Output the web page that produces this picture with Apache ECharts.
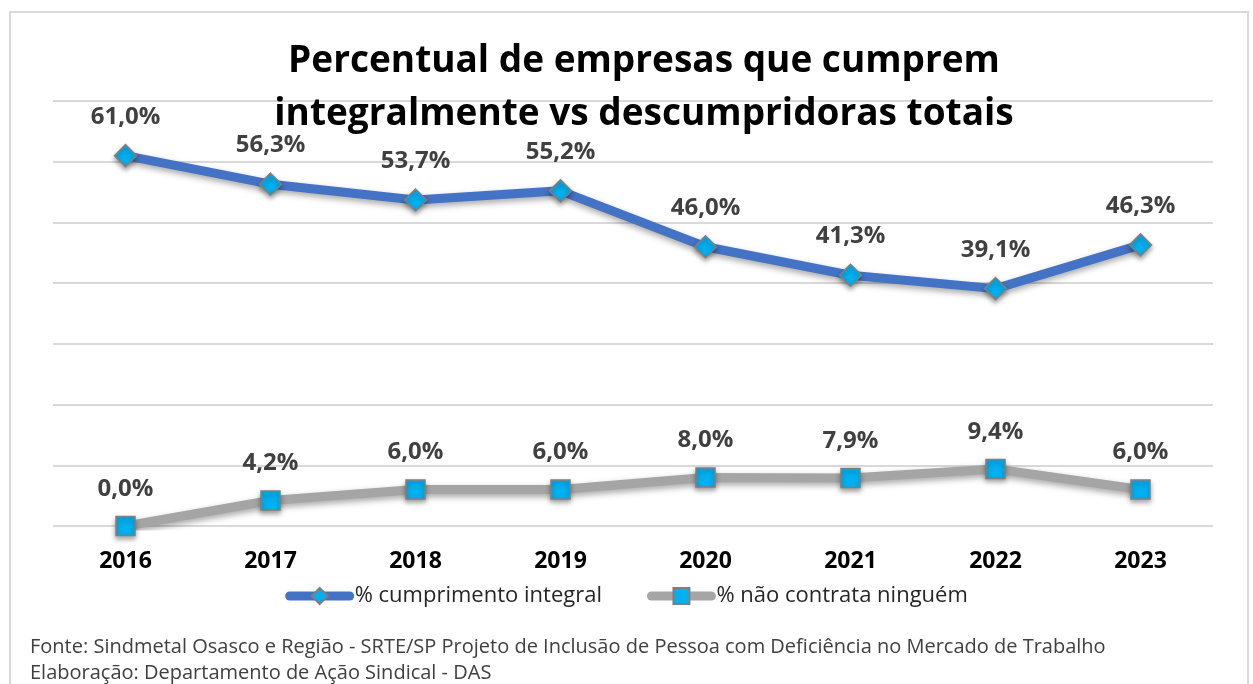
<!DOCTYPE html>
<html>
<head>
<meta charset="utf-8">
<script src="https://cdn.jsdelivr.net/npm/echarts@6/dist/echarts.min.js"></script>
<style>
  html, body { margin: 0; padding: 0; background: #fff; }
  #chart { width: 1253px; height: 684px; }
</style>
</head>
<body>
<div id="chart"></div>
<script>
const anos = ['2016', '2017', '2018', '2019', '2020', '2021', '2022', '2023']
const cumprimentoIntegral = [61.0, 56.3, 53.7, 55.2, 46.0, 41.3, 39.1, 46.3]
const naoContrata = [0.0, 4.2, 6.0, 6.0, 8.0, 7.9, 9.4, 6.0]

const fonte = 'Fonte: Sindmetal Osasco e Região - SRTE/SP Projeto de Inclusão de Pessoa com Deficiência no Mercado de Trabalho'
const elaboracao = 'Elaboração: Departamento de Ação Sindical - DAS'

const fmt = (p) => p.value.toFixed(1).replace('.', ',') + '%'

const labelStyle = {
  show: true,
  position: 'top',
  distance: 15,
  formatter: fmt,
  fontFamily: 'Open Sans',
  fontWeight: 'bold',
  fontSize: 24,
  color: '#404040'
}

const myChart = echarts.init(document.getElementById('chart'))
const option = {
  backgroundColor: '#fff',
  animation: false,
  title: {
    text: 'Percentual de empresas que cumprem\nintegralmente vs descumpridoras totais',
    left: 639,
    textAlign: 'center',
    top: 30,
    textStyle: {
      fontFamily: 'Open Sans',
      fontWeight: 'bold',
      fontSize: 37,
      lineHeight: 53,
      color: '#000'
    }
  },
  graphic: [
    {
      type: 'rect',
      shape: { x: 10, y: 12, width: 1238, height: 700 },
      style: { fill: 'none', stroke: '#d9d9d9', lineWidth: 2 },
      z: -10
    },
    {
      type: 'text',
      left: 30,
      top: 637,
      style: { text: fonte, font: '20px "Open Sans"', fill: '#404040' }
    },
    {
      type: 'text',
      left: 30,
      top: 663,
      style: { text: elaboracao, font: '20px "Open Sans"', fill: '#404040' }
    }
  ],
  legend: {
    top: 580,
    left: 'center',
    itemGap: 45,
    itemWidth: 60,
    itemHeight: 20,
    lineStyle: { width: 9, cap: 'round', shadowBlur: 0 },
    textStyle: { fontFamily: 'Open Sans', fontSize: 22, color: '#262626' },
    data: ['% cumprimento integral', '% não contrata ninguém']
  },
  grid: {
    left: 53,
    right: 40,
    top: 101,
    bottom: 158,
    containLabel: false
  },
  xAxis: {
    type: 'category',
    data: anos,
    axisLine: { show: false },
    axisTick: { show: false },
    axisLabel: {
      margin: 24,
      fontFamily: 'Open Sans',
      fontWeight: 'bold',
      fontSize: 23,
      color: '#000'
    }
  },
  yAxis: {
    type: 'value',
    min: 0,
    max: 70,
    interval: 10,
    axisLabel: { show: false },
    axisLine: { show: false },
    axisTick: { show: false },
    splitLine: { lineStyle: { color: '#d9d9d9', width: 2 } }
  },
  series: [
    {
      name: '% cumprimento integral',
      type: 'line',
      data: cumprimentoIntegral,
      symbol: 'diamond',
      symbolSize: 22,
      lineStyle: {
        color: '#4472C4',
        width: 9,
        shadowColor: 'rgba(0,0,0,0.35)',
        shadowBlur: 6,
        shadowOffsetY: 3
      },
      itemStyle: {
        color: '#00B0F0',
        borderColor: '#7f7f7f',
        borderWidth: 1.5,
        shadowColor: 'rgba(0,0,0,0.35)',
        shadowBlur: 5,
        shadowOffsetY: 3
      },
      label: labelStyle,
      z: 3
    },
    {
      name: '% não contrata ninguém',
      type: 'line',
      data: naoContrata,
      symbol: 'rect',
      symbolSize: 19,
      lineStyle: {
        color: '#A5A5A5',
        width: 9,
        shadowColor: 'rgba(0,0,0,0.35)',
        shadowBlur: 6,
        shadowOffsetY: 3
      },
      itemStyle: {
        color: '#00B0F0',
        borderColor: '#7f7f7f',
        borderWidth: 1.5,
        shadowColor: 'rgba(0,0,0,0.35)',
        shadowBlur: 5,
        shadowOffsetY: 3
      },
      label: labelStyle,
      z: 3
    }
  ]
}

option && myChart.setOption(option)
</script>
</body>
</html>
